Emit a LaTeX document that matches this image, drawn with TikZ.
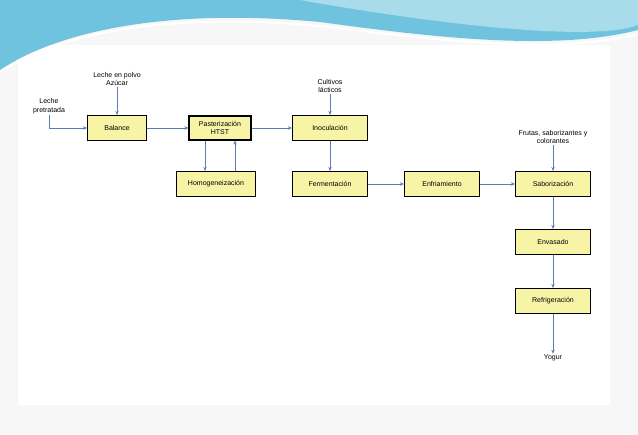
\documentclass[tikz,border=0pt]{standalone}
\usepackage{fontspec}
\setmainfont{Liberation Sans}
\usetikzlibrary{arrows.meta}
\definecolor{boxfill}{HTML}{F8F4A6}
\definecolor{arr}{HTML}{5A7DB5}
\definecolor{wave1}{HTML}{6FC3DF}
\definecolor{wave2}{HTML}{A8DCEA}
\begin{document}
\begin{tikzpicture}[x=1pt,y=-1pt,
  proc/.style={draw=black,line width=1.1pt,fill=boxfill,minimum width=75pt,minimum height=25pt,align=center,font=\fontsize{7}{8.5}\selectfont,inner sep=1pt},
  lbl/.style={align=center,font=\fontsize{7}{8.5}\selectfont,inner sep=1pt},
  flow/.style={draw=arr,line width=0.7pt,-{Stealth[length=4pt,width=3.5pt]}}]
\useasboundingbox (0,0) rectangle (638,435);
\fill[white!94!gray] (0,0) rectangle (638,435);
\fill[white] (18,45) rectangle (610,405);
% top wave
\fill[wave1] (0,0) -- (638,0) -- (638,30) .. controls (560,50) and (450,40) .. (320,22) .. controls (170,8) and (60,30) .. (0,70) -- cycle;
\fill[wave2] (300,0) -- (638,0) -- (638,25) .. controls (600,40) and (470,30) .. (300,0) -- cycle;
\draw[white,line width=2pt] (0,72) .. controls (60,32) and (170,12) .. (320,26) .. controls (450,42) and (560,54) .. (638,34);
% nodes
\node[proc,minimum width=59pt] (bal) at (117,128) {Balance};
\node[proc,minimum width=62pt,minimum height=24pt,inner xsep=3pt] (pas) at (220,128) {Pasterización\\HTST};
\node[proc,minimum width=79pt] (hom) at (216,184) {Homogeneización};
\node[proc] (ino) at (330,128) {Inoculación};
\node[proc] (fer) at (330,184) {Fermentación};
\node[proc] (enf) at (442,184) {Enfriamiento};
\node[proc] (sab) at (553,184) {Saborización};
\node[proc] (env) at (553,242) {Envasado};
\node[proc] (ref) at (553,301) {Refrigeración};
\node[lbl] (yog) at (553,358) {Yogur};
\node[lbl] (lp) at (49,106) {Leche\\pretratada};
\node[lbl] (az) at (117,79) {Leche en polvo\\Azúcar};
\node[lbl] (cul) at (330,86) {Cultivos\\lácticos};
\node[lbl] (fru) at (553,137) {Frutas, saborizantes y\\colorantes};
% connectors
\draw[flow] (lp.south) |- (bal.west);
\draw[flow] (az.south) -- (bal.north);
\draw[flow] (bal) -- (pas);
\draw[flow] (pas.south -| 205,0) -- (hom.north -| 205,0);
\draw[flow] (hom.north -| 235,0) -- (pas.south -| 235,0);
\draw[flow] (pas) -- (ino);
\draw[flow] (cul.south) -- (ino.north);
\draw[flow] (ino) -- (fer);
\draw[flow] (fer) -- (enf);
\draw[flow] (enf) -- (sab);
\draw[flow] (fru.south) -- (sab.north);
\draw[flow] (sab) -- (env);
\draw[flow] (env) -- (ref);
\draw[flow] (ref) -- (yog);
\end{tikzpicture}
\end{document}
